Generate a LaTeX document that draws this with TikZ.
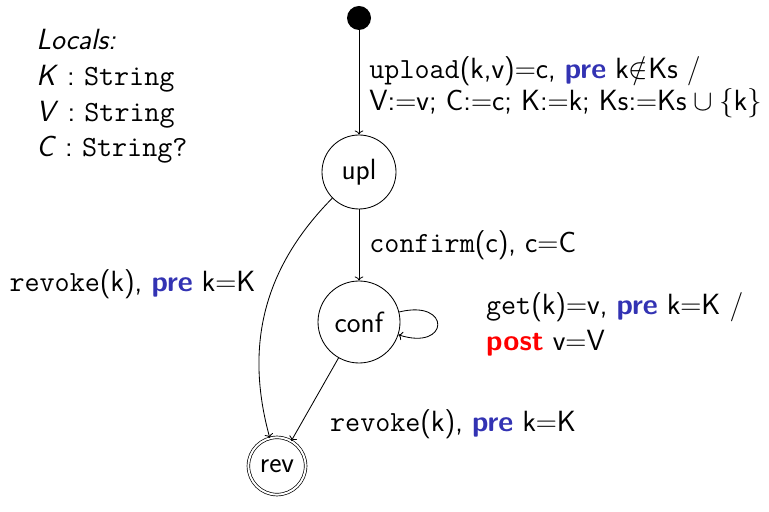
\RequirePackage{fix-cm}
\documentclass[tikz,border=0pt]{standalone}
\usepackage{xcolor}
\usepackage{tikz}
\usetikzlibrary{positioning,arrows.meta,calc}
\definecolor{kwblue}{RGB}{51,51,179}
\definecolor{kwred}{RGB}{255,0,0}
\tikzset{
  state/.style={circle,draw,inner sep=1pt,line width=0.6pt},
  final/.style={state,double,double distance=1.4pt,line width=0.5pt},
  init/.style={circle,fill=black,inner sep=0pt,minimum size=0.6cm},
  trans/.style={->,line width=0.6pt},
  lbl/.style={align=left,inner sep=0.25cm},
}
\newcommand{\kwpre}{\textcolor{kwblue}{\textbf{pre}}}
\newcommand{\kwpost}{\textcolor{kwred}{\textbf{post}}}

\begin{document}
\begin{tikzpicture}[font=\sffamily\fontsize{20.8}{25.5}\selectfont]
\useasboundingbox (0,0) rectangle (19.225,-12.8);
% locals
\node[anchor=north west,align=left,inner sep=0pt] (locals) at (0.9,-0.72)
  {\textit{Locals:}\\ \textit{K} : \texttt{String}\\ \textit{V} : \texttt{String}\\ \textit{C} : \texttt{String?}};
% states
\node[init] (start) at (8.975,-0.45) {};
\node[state,minimum size=1.85cm] (upl) at (8.975,-4.3) {upl};
\node[state,minimum size=2.05cm] (conf) at (8.975,-8.05) {conf};
\node[final,minimum size=1.43cm] (rev) at (6.925,-11.65) {rev};
% transitions
\draw[trans] (start) -- node[lbl,right,yshift=-0.12cm] {\texttt{upload}(k,v)$=$c, \kwpre{} k$\notin$Ks /\\[-2.5pt] V:$=$v; C:$=$c; K:$=$k; Ks:$=$Ks$\mathord{}\cup\mathord{}\{$k$\}$} (upl);
\draw[trans] (upl) -- node[lbl,right] {\texttt{confirm}(c), c$=$C} (conf);
\draw[trans] (upl) to[bend right=30] node[lbl,above left,pos=0.5] {\texttt{revoke}(k), \kwpre{} k$=$K} (rev);
\draw[trans] (conf) to[out=14,in=-18,looseness=1,min distance=1.35cm] node[lbl,right,xshift=0.95cm] {\texttt{get}(k)$=$v, \kwpre{} k$=$K /\\ \kwpost{} v$=$V} (conf);
\draw[trans] (conf) -- node[lbl,below right,xshift=0.12cm] {\texttt{revoke}(k), \kwpre{} k$=$K} (rev);
\end{tikzpicture}
\end{document}
